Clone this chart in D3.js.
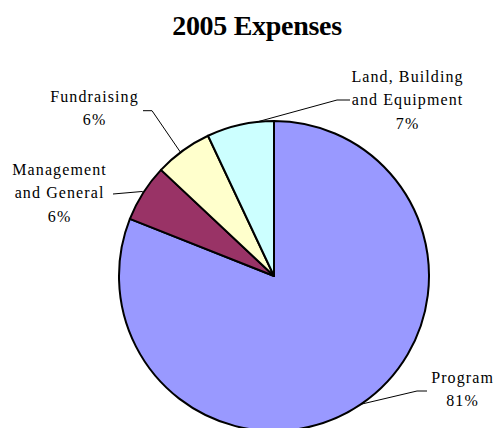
<!DOCTYPE html>
<html>
<head>
<meta charset="utf-8">
<script src="https://cdn.jsdelivr.net/npm/d3@7/dist/d3.min.js"></script>
<style>
  html, body { margin: 0; padding: 0; background: #fff; }
  svg { display: block; }
  text { font-family: "Liberation Serif", "Times New Roman", "DejaVu Serif", serif; fill: #000; }
</style>
</head>
<body>
<svg id="chart" width="502" height="428"></svg>
<script>
// Expense shares for 2005 (percent of total)
const categories = ["Program", "Management and General", "Fundraising", "Land, Building and Equipment"];
const values = [81, 6, 6, 7];
const labelLines = [
  ["Program", "81%"],
  ["Management", "and General", "6%"],
  ["Fundraising", "6%"],
  ["Land, Building", "and Equipment", "7%"]
];
const colors = ["#9999FF", "#993366", "#FFFFCC", "#CCFFFF"];

// Label placement: where the leader leaves the slice (fraction of its sweep),
// the elbow and end of the leader, and the centre / first baseline of the text block.
const labelLayout = [
  { frac: 0.50, elbow: [417, 391], end: [427, 391], text: [462, 383] },
  { frac: 0.51, elbow: [142, 191.5], end: [113, 194], text: [59, 175] },
  { frac: 0.45, elbow: [152, 110.7], end: [143, 110.7], text: [94, 101.7] },
  { frac: 0.75, elbow: [337, 100], end: [350, 100], text: [407, 82] }
];

const svg = d3.select("#chart");
const cx = 274, cy = 276, radius = 155;

svg.append("text")
  .attr("x", 257)
  .attr("y", 35)
  .attr("text-anchor", "middle")
  .style("font-size", "28px")
  .style("font-weight", "bold")
  .style("letter-spacing", "-0.3px")
  .text("2005 Expenses");

const pie = d3.pie().sort(null).value(d => d)(values);
const arc = d3.arc().innerRadius(0).outerRadius(radius);

const g = svg.append("g").attr("transform", `translate(${cx},${cy})`);

g.selectAll("path.slice")
  .data(pie)
  .join("path")
  .attr("class", "slice")
  .attr("d", arc)
  .attr("fill", (d, i) => colors[i])
  .attr("stroke", "#000")
  .attr("stroke-width", 2)
  .attr("stroke-linejoin", "round");

// Leader lines from slice edge to the label
pie.forEach((d, i) => {
  const L = labelLayout[i];
  const a = d.startAngle + (d.endAngle - d.startAngle) * L.frac;
  const px = cx + radius * Math.sin(a);
  const py = cy - radius * Math.cos(a);
  svg.append("polyline")
    .attr("points", [[px, py], L.elbow, L.end].map(p => p.join(",")).join(" "))
    .attr("fill", "none")
    .attr("stroke", "#000")
    .attr("stroke-width", 1);

  const t = svg.append("text")
    .attr("text-anchor", "middle")
    .style("font-size", "16px")
    .style("letter-spacing", "1.1px");
  labelLines[i].forEach((line, k) => {
    t.append("tspan")
      .attr("x", L.text[0] + 0.55)
      .attr("y", L.text[1] + k * 23.3)
      .text(line);
  });
});
</script>
</body>
</html>
